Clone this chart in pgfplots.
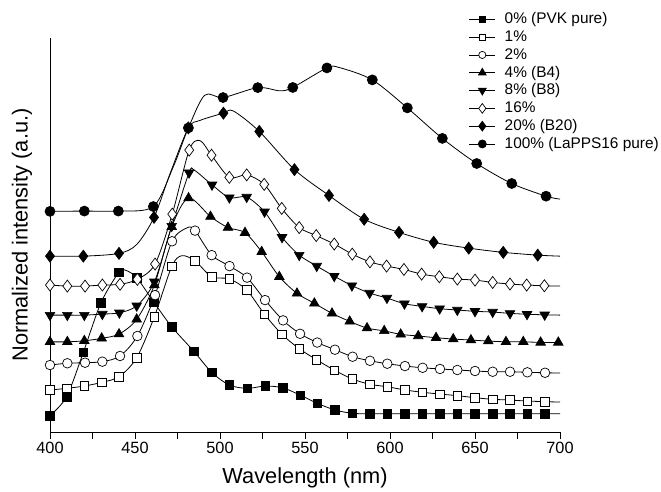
\documentclass[border=0pt]{standalone}
\usepackage{fontspec}
\setmainfont{Liberation Sans}
\usepackage{pgfplots}
\usepackage{pgfplotstable}
\pgfplotsset{compat=1.18}

% x = wavelength (nm), y = offset intensity, m = 1 where a marker sits
\pgfplotstableread{
x y m
400 1.12 1
409.8 2.42 1
419.6 5.46 1
430.0 8.86 1
440.6 10.96 1
444.5 11.08 0
451.0 10.57 1
461.2 8.88 1
471.6 7.21 1
484.7 5.52 1
495.1 4.09 1
505.5 3.22 1
516.1 2.99 1
526.5 3.15 1
536.9 3.03 1
547.1 2.53 1
557.2 1.97 1
567.6 1.51 1
578.0 1.28 1
588.2 1.25 1
598.4 1.25 1
608.8 1.25 1
619.2 1.25 1
629.4 1.25 1
639.6 1.25 1
650.0 1.25 1
660.4 1.25 1
670.6 1.25 1
680.8 1.25 1
691.2 1.25 1
700 1.25 0
}\tzero
\pgfplotstableread{
x y m
400 2.88 1
409.8 2.99 1
420.2 3.15 1
430.4 3.40 1
440.6 3.79 1
451.0 5.09 1
461.4 7.90 1
471.6 11.34 1
477.5 12.08 0
485.3 11.73 1
495.1 10.64 1
505.5 10.49 1
515.7 9.73 1
526.1 8.08 1
536.3 6.71 1
546.6 5.71 1
556.8 4.95 1
567.4 4.23 1
577.9 3.63 1
588.2 3.27 1
598.4 3.10 1
608.8 2.88 1
619.2 2.72 1
629.4 2.60 1
639.6 2.49 1
650.0 2.35 1
660.4 2.24 1
670.6 2.19 1
680.8 2.12 1
691.2 2.08 1
700 2.05 0
}\tone
\pgfplotstableread{
x y m
400 4.59 1
410.2 4.71 1
420.6 4.75 1
430.8 4.82 1
441.2 5.21 1
451.4 6.58 1
461.8 9.38 1
471.8 13.07 1
480.8 14.00 0
485.3 13.80 1
495.1 12.12 1
505.6 11.37 1
515.9 10.58 1
526.5 9.04 1
537.1 7.65 1
547.1 6.73 1
557.2 6.13 1
567.6 5.64 1
578.0 5.16 1
588.2 4.88 1
598.4 4.68 1
608.8 4.52 1
619.2 4.40 1
629.4 4.32 1
639.6 4.25 1
650.0 4.18 1
660.4 4.13 1
670.6 4.13 1
680.8 4.09 1
691.2 4.06 1
700 4.04 0
}\ttwo
\pgfplotstableread{
x y m
400 6.18 1
410.2 6.18 1
420.2 6.25 1
430.4 6.42 1
440.6 6.71 1
451.0 7.72 1
461.4 10.07 1
471.6 14.06 1
481.5 16.03 1
494.4 14.76 1
504.7 14.01 1
514.7 13.66 1
524.5 12.35 1
534.9 10.64 1
545.3 9.50 1
555.5 8.82 1
565.9 8.13 1
576.3 7.58 1
586.5 7.12 1
596.6 6.93 1
606.3 6.69 1
616.6 6.58 1
627.1 6.46 1
637.2 6.37 1
647.6 6.30 1
657.8 6.23 1
668.2 6.18 1
678.4 6.18 1
688.6 6.14 1
699.0 6.14 1
700 6.14 0
}\tfour
\pgfplotstableread{
x y m
400 8.01 1
410.2 8.01 1
420.2 8.01 1
430.8 8.08 1
440.8 8.17 1
451.0 8.65 1
461.4 10.29 1
471.6 14.11 1
481.8 17.77 1
484.8 17.95 0
495.3 16.94 1
505.5 16.06 1
515.7 16.10 1
526.2 15.09 1
536.5 13.34 1
546.6 12.12 1
556.9 11.37 1
567.2 10.68 1
577.6 10.03 1
588.0 9.52 1
598.2 9.18 1
608.5 8.79 1
618.9 8.61 1
629.2 8.45 1
639.6 8.36 1
650.0 8.27 1
660.4 8.22 1
670.6 8.13 1
680.6 8.07 1
691.0 8.03 1
700 8.01 0
}\teight
\pgfplotstableread{
x y m
400 10.07 1
410.2 10.00 1
420.6 10.00 1
430.8 10.07 1
441.2 10.12 1
451.4 10.46 1
461.8 11.51 1
471.9 14.93 1
481.9 19.32 1
488.2 19.97 0
495.0 18.97 1
505.5 17.45 1
515.7 17.62 1
526.0 16.97 1
536.3 15.32 1
546.6 14.01 1
556.6 13.46 1
567.2 12.88 1
577.8 12.19 1
588.2 11.66 1
598.0 11.37 1
608.2 11.14 1
618.6 10.82 1
629.0 10.64 1
639.6 10.48 1
650.0 10.41 1
660.4 10.25 1
670.6 10.14 1
680.4 10.07 1
690.8 10.02 1
700 10.00 0
}\tsixteen
\pgfplotstableread{
x y m
400 12.05 1
419.6 12.05 1
440.6 12.24 1
451.0 12.85 0
461.2 14.71 1
470.6 17.70 0
481.4 20.84 1
488.2 21.35 0
502.0 21.85 1
507.8 22.00 0
523.1 20.60 1
543.8 17.98 1
564.1 16.21 1
584.8 14.58 1
605.3 13.68 1
625.7 13.00 1
646.3 12.60 1
666.6 12.31 1
686.9 12.12 1
700 12.05 0
}\ttwenty
\pgfplotstableread{
x y m
400 15.12 1
420.2 15.14 1
440.2 15.14 1
460.8 15.45 1
472.5 18.17 0
481.4 20.84 1
491.0 23.08 0
501.8 22.92 1
522.2 23.60 1
535.3 23.38 0
542.8 23.61 1
562.9 24.95 1
570.0 24.98 0
589.6 24.13 1
610.2 22.21 1
630.8 20.12 1
651.0 18.40 1
671.6 17.03 1
691.8 16.16 1
700 15.96 0
}\thundred

\newcommand{\curve}[3]{%
  \addplot[black, line width=0.8pt, smooth, forget plot] table[x=x,y=y] {#1};
  \addplot[black, only marks, mark=#2, mark options={line width=0.7pt,#3}, forget plot,
    restrict expr to domain={\thisrow{m}}{1:1}] table[x=x,y=y] {#1};
}

\begin{document}
\begin{tikzpicture}
\begin{axis}[
  name=ax,
  scale only axis, width=510pt, height=394pt,
  xmin=400, xmax=700, ymin=0, ymax=27,
  axis lines*=left, axis line style={line width=0.8pt},
  clip=false,
  xtick={400,425,...,700},
  xticklabels={400,,450,,500,,550,,600,,650,,700},
  ytick=\empty, minor ytick={0,1,...,27},
  tick align=outside, major tick length=7pt, minor tick length=3pt,
  every tick/.style={black, line width=0.7pt},
  ticklabel style={font=\fontsize{16.3}{19}\selectfont},
  /pgf/number format/assume math mode=true,
  xlabel={Wavelength (nm)}, ylabel={Normalized intensity (a.u.)},
  label style={font=\fontsize{21.8}{26}\selectfont},
  xlabel style={at={(axis description cs:0.5,-0.117)}, anchor=center},
  ylabel style={at={(axis description cs:-0.055,0.5)}, anchor=center},
  legend style={at={(axis description cs:0.821,1.07)}, anchor=north west,
    draw=none, fill=none, inner sep=0pt,
    font=\fontsize{15.4}{19}\selectfont,
    nodes={inner sep=1pt, text height=12pt, text depth=3.5pt},
    row sep=0.3pt, cells={anchor=west},
    /tikz/every odd column/.append style={column sep=8pt}},
  legend image code/.code={\draw[mark repeat=2,mark phase=2,#1]
    plot coordinates {(0pt,0pt) (13pt,0pt) (26pt,0pt)};},
]
\curve{\tzero}{square*}{mark size=4.2pt}
\curve{\tone}{square*}{mark size=4.2pt, fill=white}
\curve{\ttwo}{*}{mark size=4.8pt, fill=white}
\curve{\tfour}{triangle*}{mark size=5.5pt}
\curve{\teight}{triangle*}{mark size=5.5pt, rotate=180}
\curve{\tsixteen}{diamond*}{mark size=6pt, fill=white}
\curve{\ttwenty}{diamond*}{mark size=6pt}
\curve{\thundred}{*}{mark size=5pt}

\addlegendimage{black, line width=0.8pt, mark=square*, mark options={mark size=3.2pt}}
\addlegendentry{0\% (PVK pure)}
\addlegendimage{black, line width=0.8pt, mark=square*, mark options={mark size=3.2pt, fill=white, line width=0.7pt}}
\addlegendentry{1\%}
\addlegendimage{black, line width=0.8pt, mark=*, mark options={mark size=3.6pt, fill=white, line width=0.7pt}}
\addlegendentry{2\%}
\addlegendimage{black, line width=0.8pt, mark=triangle*, mark options={mark size=4.4pt}}
\addlegendentry{4\% (B4)}
\addlegendimage{black, line width=0.8pt, mark=triangle*, mark options={mark size=4.4pt, rotate=180}}
\addlegendentry{8\% (B8)}
\addlegendimage{black, line width=0.8pt, mark=diamond*, mark options={mark size=4.8pt, fill=white, line width=0.7pt}}
\addlegendentry{16\%}
\addlegendimage{black, line width=0.8pt, mark=diamond*, mark options={mark size=4.8pt}}
\addlegendentry{20\% (B20)}
\addlegendimage{black, line width=0.8pt, mark=*, mark options={mark size=4pt}}
\addlegendentry{100\% (LaPPS16 pure)}
\end{axis}
\path (ax.south west) ++(-50pt,-57pt) rectangle ++(661pt,489pt);
\end{tikzpicture}
\end{document}
